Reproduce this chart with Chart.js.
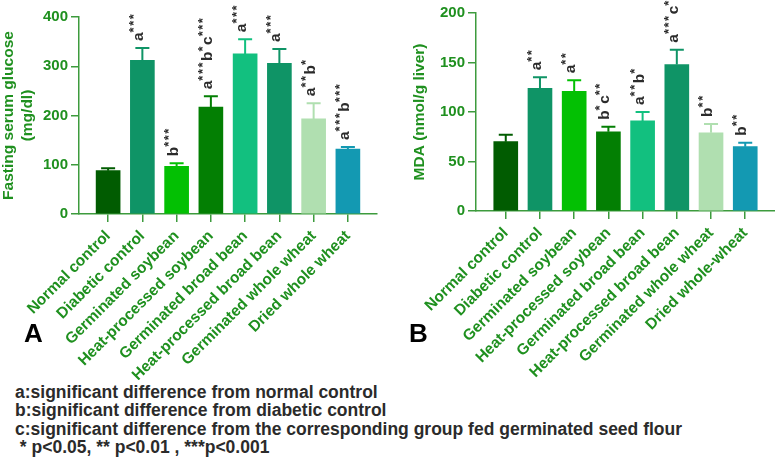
<!DOCTYPE html>
<html>
<head>
<meta charset="utf-8">
<script src="https://cdn.jsdelivr.net/npm/chart.js@4"></script>
<style>
  body { margin: 0; background: #fff; }
  #wrap { position: relative; width: 775px; height: 463px; overflow: hidden; font-family: "Liberation Sans", Arial, sans-serif; }
  canvas { position: absolute; top: 0; }
  .panel { position: absolute; top: 320px; font-weight: bold; font-size: 26px; line-height: 26px; color: #000; }
  #notes { position: absolute; left: 15px; top: 383px; font-size: 17.5px; line-height: 18.3px; font-weight: bold; color: #2b2b2b; white-space: pre; }
</style>
</head>
<body>
<div id="wrap">
  <canvas id="chartA" width="385" height="380" style="left:0"></canvas>
  <canvas id="chartB" width="390" height="380" style="left:385px"></canvas>
  <div class="panel" style="left:24px">A</div>
  <div class="panel" style="left:409px">B</div>
  <div id="notes">a:significant difference from normal control
b:significant difference from diabetic control
c:significant difference from the corresponding group fed germinated seed flour
 * p&lt;0.05, ** p&lt;0.01 , ***p&lt;0.001</div>
</div>
<script>
// groups (x axis)
const groupsA = ['Normal control', 'Diabetic control', 'Germinated soybean', 'Heat-processed soybean',
  'Germinated broad bean', 'Heat-processed broad bean', 'Germinated whole wheat', 'Dried whole wheat'];
const groupsB = ['Normal control', 'Diabetic control', 'Germinated soybean', 'Heat-processed soybean',
  'Germinated broad bean', 'Heat-processed broad bean', 'Germinated whole wheat', 'Dried whole-wheat'];

// A: fasting serum glucose (mg/dl), mean and SE
const glucose = [88, 312, 97, 217, 325, 306, 193, 132];
const glucoseErr = [5, 25, 6, 22, 30, 29, 32, 4];
const glucoseSig = ['', 'a***', 'b***', 'a***b*c***', 'a***', 'a***', 'a**b*', 'a***b***'];

// B: MDA (nmol/g liver)
const mda = [70, 124, 121, 80, 91, 148, 79, 65];
const mdaErr = [7, 11, 11, 5, 9, 15, 9, 4];
const mdaSig = ['', 'a**', 'a**', 'b*c**', 'a**b*', 'a***c**', 'b**', 'b**'];

const barColors = ['#015c01', '#0f9466', '#03c003', '#037f03', '#12c07f', '#0f9466', '#b0dfb0', '#1399b2'];
const green = '#1f901f';
const axisGreen = '#3d9b3d';
const FONT = '"Liberation Sans", Arial, sans-serif';

// error bars + significance letters drawn on top of the bars
const sigPlugin = {
  id: 'sig',
  afterDatasetsDraw(chart, args, opts) {
    const ctx = chart.ctx;
    const y = chart.scales.y;
    const meta = chart.getDatasetMeta(0);
    meta.data.forEach((bar, i) => {
      const top = y.getPixelForValue(opts.values[i] + opts.errs[i]);
      ctx.save();
      ctx.strokeStyle = barColors[i];
      ctx.lineWidth = 2;
      ctx.beginPath();
      ctx.moveTo(bar.x, bar.y);
      ctx.lineTo(bar.x, top);
      ctx.moveTo(bar.x - 7, top);
      ctx.lineTo(bar.x + 7, top);
      ctx.stroke();

      // rotated label, asterisks as superscripts
      ctx.translate(bar.x + 1, top - 7);
      ctx.rotate(-Math.PI / 2);
      ctx.fillStyle = '#2b2b2b';
      ctx.textAlign = 'left';
      ctx.textBaseline = 'alphabetic';
      let cx = 0;
      (opts.marks[i].match(/[a-z]+|\*+/g) || []).forEach(part => {
        if (part[0] === '*') {
          ctx.font = 'bold 13px ' + FONT;
          ctx.letterSpacing = '1.5px';
          ctx.fillText(part, cx, -5);
        } else {
          ctx.font = 'bold 15.5px ' + FONT;
          ctx.letterSpacing = '0px';
          ctx.fillText(part, cx, 0);
        }
        cx += ctx.measureText(part).width;
      });
      ctx.restore();
    });
  }
};

function makeChart(id, groups, values, errs, marks, cfg) {
  return new Chart(document.getElementById(id), {
    type: 'bar',
    data: {
      datasets: [{
        data: values.map((v, i) => ({ x: i, y: v })),
        backgroundColor: barColors,
        borderWidth: 0,
        barThickness: 24
      }]
    },
    options: {
      responsive: false,
      animation: false,
      layout: { padding: cfg.padding },
      plugins: {
        legend: { display: false },
        tooltip: { enabled: false },
        sig: { values: values, errs: errs, marks: marks }
      },
      scales: {
        x: {
          type: 'linear',
          offset: false,
          min: cfg.xMin,
          max: 7 - cfg.xMin,
          afterBuildTicks: s => { s.ticks = groups.map((g, i) => ({ value: i })); },
          afterFit: s => { s.height = cfg.xHeight; },
          ticks: {
            callback: v => groups[v],
            autoSkip: false,
            minRotation: 45,
            maxRotation: 45,
            padding: 5,
            color: green,
            font: { family: FONT, size: 15.5, weight: 'bold' }
          },
          grid: { offset: false, drawOnChartArea: false, tickLength: 8, color: axisGreen, lineWidth: 1.5 },
          border: { color: axisGreen, width: 1.5 }
        },
        y: {
          min: 0,
          max: cfg.yMax,
          afterFit: s => { s.width = cfg.yWidth; },
          ticks: {
            stepSize: cfg.yStep,
            padding: 3,
            color: green,
            font: { family: FONT, size: 15, weight: 'bold' }
          },
          grid: { drawOnChartArea: false, tickLength: 8, color: axisGreen, lineWidth: 1.5 },
          border: { color: axisGreen, width: 1.5 },
          title: {
            display: true,
            text: cfg.title,
            color: green,
            padding: { top: cfg.titlePad, bottom: 0 },
            font: { family: FONT, size: 15.5, weight: 'bold', lineHeight: 1.22 }
          }
        }
      }
    },
    plugins: [sigPlugin]
  });
}

makeChart('chartA', groupsA, glucose, glucoseErr, glucoseSig, {
  padding: { top: 17, right: 8, bottom: 0, left: 0 },
  xMin: -0.85, xHeight: 166, yWidth: 79, yMax: 400, yStep: 100,
  title: ['Fasting serum glucose', '(mg/dl)'], titlePad: -1
});

makeChart('chartB', groupsB, mda, mdaErr, mdaSig, {
  padding: { top: 13, right: 0, bottom: 0, left: 0 },
  xMin: -0.87, xHeight: 169, yWidth: 91, yMax: 200, yStep: 50,
  title: 'MDA (nmol/g liver)', titlePad: 25
});
</script>
</body>
</html>
